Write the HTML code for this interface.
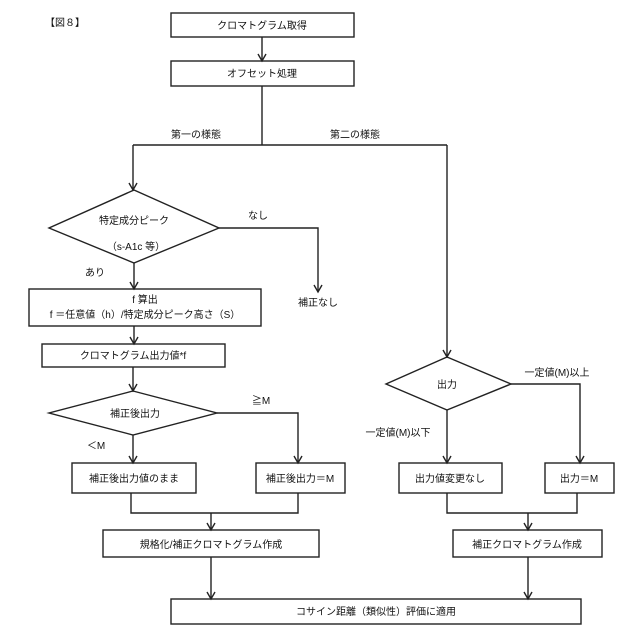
<!DOCTYPE html>
<html><head><meta charset="utf-8"><style>
html,body{margin:0;padding:0;background:#fff;}
svg{display:block;}
text{font-family:"Liberation Sans","Noto Sans CJK JP",sans-serif;font-size:10px;fill:#111;}
</style></head><body>
<svg width="640" height="640" viewBox="0 0 640 640" xmlns="http://www.w3.org/2000/svg">
<defs>
<marker id="a" viewBox="0 0 10 10" refX="5" refY="10" markerWidth="8" markerHeight="8" orient="auto-start-reverse" markerUnits="userSpaceOnUse">
</marker>
</defs>
<g fill="none" stroke="#222" stroke-width="1.4">
<!-- boxes -->
<rect x="171" y="13" width="183" height="24"/>
<rect x="171" y="61" width="183" height="25"/>
<rect x="29" y="289" width="232" height="37"/>
<rect x="42" y="344" width="183" height="23"/>
<rect x="72" y="463" width="124" height="30"/>
<rect x="256" y="463" width="89" height="30"/>
<rect x="103" y="530" width="216" height="27"/>
<rect x="399" y="463" width="103" height="30"/>
<rect x="545" y="463" width="69" height="30"/>
<rect x="453" y="530" width="149" height="27"/>
<rect x="171" y="599" width="410" height="25"/>
<!-- diamonds -->
<polygon points="134,190 219,228 134,263 49,228"/>
<polygon points="133,391 217,413 133,435 49,413"/>
<polygon points="447,357 511,384 447,410 386,384"/>
<!-- lines -->
<path d="M262,37V61M262,86V145M133,145H447M133,145V190"/>
<path d="M219,228H318V292"/>
<path d="M134,263V289M134,326V344M133,367V391"/>
<path d="M217,413H298V463M133,435V463"/>
<path d="M131,493V513H298V493M211,513V530M211,557V599"/>
<path d="M447,145V357M447,410V463M511,384H580V463"/>
<path d="M447,493V513H577V493M528,513V530M528,557V599"/>
<!-- arrowheads -->
<path d="M258,54L262,61L266,54M129,183L133,190L137,183M314,285L318,292L322,285M130,282L134,289L138,282M130,337L134,344L138,337M129,384L133,391L137,384M294,456L298,463L302,456M129,456L133,463L137,456M207,523L211,530L215,523M207,592L211,599L215,592M443,350L447,357L451,350M443,456L447,463L451,456M576,456L580,463L584,456M524,523L528,530L532,523M524,592L528,599L532,592"/>
</g>
<text x="45" y="26">【図８】</text>
<g text-anchor="middle">
<text x="262" y="29">クロマトグラム取得</text>
<text x="262" y="77">オフセット処理</text>
<text x="196" y="138">第一の様態</text>
<text x="355" y="138">第二の様態</text>
<text x="134" y="224" font-size="9">特定成分ピーク</text>
<text x="136" y="250" font-size="9">（s-A1c 等）</text>
<text x="258" y="219">なし</text>
<text x="318" y="306">補正なし</text>
<text x="95" y="276">あり</text>
<text x="145" y="303">f 算出</text>
<text x="145" y="318">f ＝任意値（h）/特定成分ピーク高さ（S）</text>
<text x="133" y="359">クロマトグラム出力値*f</text>
<text x="135" y="417">補正後出力</text>
<text x="261" y="404">≧M</text>
<text x="96" y="449">＜M</text>
<text x="134" y="482">補正後出力値のまま</text>
<text x="300" y="482">補正後出力＝M</text>
<text x="211" y="548">規格化/補正クロマトグラム作成</text>
<text x="447" y="388" font-size="9">出力</text>
<text x="557" y="376">一定値(M)以上</text>
<text x="398" y="436">一定値(M)以下</text>
<text x="450" y="482">出力値変更なし</text>
<text x="579" y="482">出力＝M</text>
<text x="527" y="548">補正クロマトグラム作成</text>
<text x="376" y="615">コサイン距離（類似性）評価に適用</text>
</g>
</svg>
</body></html>
